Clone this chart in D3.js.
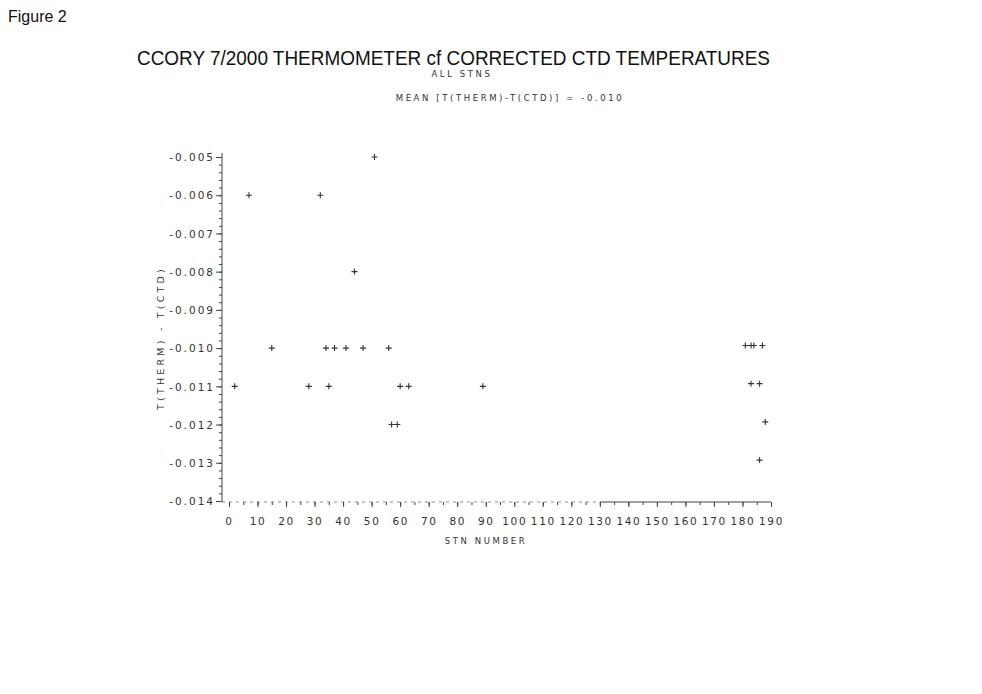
<!DOCTYPE html>
<html>
<head>
<meta charset="utf-8">
<script src="https://cdn.jsdelivr.net/npm/d3@7"></script>
<style>
  body { margin: 0; background: #fff; }
  .tick text { font-family: "DejaVu Sans", sans-serif; font-size: 10.5px; letter-spacing: 2px; fill: #333; }
  .tick line { stroke: #444; }
  .axisline { stroke: #444; stroke-width: 1; }
  .lbl { font-family: "DejaVu Sans", sans-serif; font-size: 9.5px; letter-spacing: 2.6px; fill: #333; }
</style>
</head>
<body>
<div id="chart"></div>
<script>
// station numbers and T(therm) - T(ctd)
const stn = [2, 7, 15, 28, 32, 34, 37, 35, 41, 44, 47, 51, 56, 57, 59, 60, 63, 89,
  181, 183, 184, 187, 183, 186, 188, 186]
const diff = [-0.011, -0.006, -0.010, -0.011, -0.006, -0.010, -0.010, -0.011, -0.010, -0.008,
  -0.010, -0.005, -0.010, -0.012, -0.012, -0.011, -0.011, -0.011,
  -0.00993, -0.00993, -0.00993, -0.00993, -0.01093, -0.01093, -0.01193, -0.01293]

const xTicks = d3.range(0, 191, 10)
const xMinor = d3.range(0, 191, 5)
const yTicks = [-0.014, -0.013, -0.012, -0.011, -0.010, -0.009, -0.008, -0.007, -0.006, -0.005]
const yMinor = d3.range(-0.014, -0.00499, 0.0002)

const width = 982, height = 694

const svg = d3.select("#chart").append("svg")
  .attr("width", width)
  .attr("height", height)

const x = d3.scaleLinear().domain([0, 190]).range([229, 771])
const y = d3.scaleLinear().domain([-0.014, -0.005]).range([501, 157])
const axisX = 222, axisY = 502

// titles
svg.append("text")
  .attr("x", 8).attr("y", 22)
  .style("font-family", "Liberation Sans, Arial, sans-serif")
  .style("font-size", "16px")
  .attr("fill", "#111")
  .text("Figure 2")

svg.append("text")
  .attr("x", 137).attr("y", 65)
  .attr("textLength", 633)
  .attr("lengthAdjust", "spacingAndGlyphs")
  .style("font-family", "Liberation Sans, Arial, sans-serif")
  .style("font-size", "19.5px")
  .attr("fill", "#111")
  .text("CCORY 7/2000 THERMOMETER cf CORRECTED CTD TEMPERATURES")

svg.append("text").classed("lbl", true)
  .attr("x", 462).attr("y", 77)
  .attr("text-anchor", "middle")
  .style("font-size", "8.5px")
  .text("ALL STNS")

svg.append("text").classed("lbl", true)
  .attr("x", 510).attr("y", 101)
  .attr("text-anchor", "middle")
  .style("font-size", "8.5px")
  .text("MEAN [T(THERM)-T(CTD)] = -0.010")

const fmtY = d => d3.format(".3f")(d).replace("\u2212", "-")

// y axis
const gy = svg.append("g").attr("transform", `translate(${axisX},0)`)
gy.call(d3.axisLeft(y).tickValues(yMinor).tickSize(3).tickFormat(""))
gy.call(g => g.select(".domain").remove())
const gy2 = svg.append("g").attr("transform", `translate(${axisX},0)`)
gy2.call(d3.axisLeft(y).tickValues(yTicks).tickSize(6).tickPadding(1).tickFormat(fmtY))
gy2.call(g => g.select(".domain").remove())
gy2.selectAll(".tick text").attr("dy", "0.35em")
svg.append("line").classed("axisline", true)
  .attr("x1", axisX).attr("x2", axisX)
  .attr("y1", y(-0.005) - 4).attr("y2", axisY)

// x axis
const gx = svg.append("g").attr("transform", `translate(0,${axisY})`)
gx.call(d3.axisBottom(x).tickValues(xMinor).tickSize(3).tickFormat(""))
gx.call(g => g.select(".domain").remove())
const gx2 = svg.append("g").attr("transform", `translate(0,${axisY})`)
gx2.call(d3.axisBottom(x).tickValues(xTicks).tickSize(5).tickPadding(11).tickFormat(d3.format("d")))
gx2.call(g => g.select(".domain").remove())
gx2.selectAll(".tick text").attr("dx", "0px").style("letter-spacing", "1.6px")
// left part of the scanned axis line is broken, right part solid
svg.append("line").classed("axisline", true)
  .attr("x1", axisX).attr("x2", x(130))
  .attr("y1", axisY).attr("y2", axisY)
  .attr("stroke-dasharray", "3,4")
  .attr("stroke-opacity", 0.6)
svg.append("line").classed("axisline", true)
  .attr("x1", x(130)).attr("x2", x(190))
  .attr("y1", axisY).attr("y2", axisY)

// axis labels
svg.append("text").classed("lbl", true)
  .attr("x", 486).attr("y", 544)
  .attr("text-anchor", "middle")
  .style("font-size", "8.5px")
  .text("STN NUMBER")

svg.append("text").classed("lbl", true)
  .attr("transform", `translate(164,${338}) rotate(-90)`)
  .attr("text-anchor", "middle")
  .style("font-size", "9.5px")
  .style("letter-spacing", "3.2px")
  .text("T(THERM) - T(CTD)")

// points as plus signs
const pts = stn.map((s, i) => ({ s: s, v: diff[i] }))
const r = 3
svg.append("g").classed("points", true)
  .selectAll("path")
  .data(pts)
  .enter()
  .append("path")
  .attr("d", d => {
    const cx = x(d.s), cy = y(d.v)
    return `M${cx - r},${cy}H${cx + r}M${cx},${cy - r}V${cy + r}`
  })
  .attr("stroke", "#333")
  .attr("stroke-width", 1.1)
  .attr("fill", "none")
</script>
</body>
</html>
